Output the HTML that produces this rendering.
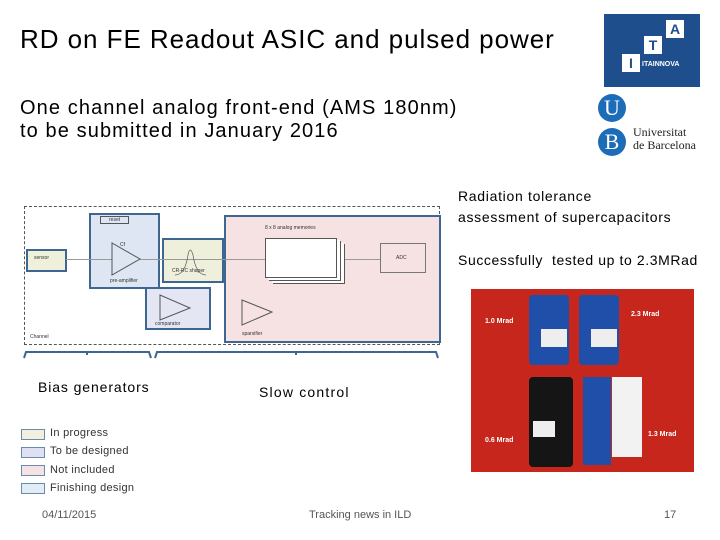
<!DOCTYPE html>
<html><head><meta charset="utf-8"><style>
body{margin:0;width:720px;height:540px;background:#fff;position:relative;overflow:hidden;font-family:"Liberation Sans",sans-serif;color:#000}
.a{position:absolute}
.t{font-size:14px}
.b{position:absolute;border:2px solid #3d6791}
.lg{position:absolute;width:22px;height:9px;border:1.5px solid #6a8bb0}
.lt{position:absolute;font-size:11px;color:#333;left:50px;letter-spacing:0.3px}
.s{font-size:5px;color:#333;position:absolute}
</style></head><body>
<div class="a" style="left:20px;top:24px;font-size:26px;letter-spacing:0.95px">RD on FE Readout ASIC and pulsed power</div>
<div class="a" style="left:20px;top:97px;font-size:20px;line-height:23px;letter-spacing:1.1px">One channel analog front-end (AMS 180nm)<br>to be submitted in January 2016</div>
<!-- ITA logo -->
<div class="a" style="left:604px;top:14px;width:96px;height:73px;background:#1f4e8c">
<div class="a" style="left:62px;top:6px;width:18px;height:18px;background:#fff;color:#1f4e8c;font-weight:bold;font-size:14px;text-align:center;line-height:18px">A</div>
<div class="a" style="left:40px;top:22px;width:18px;height:18px;background:#fff;color:#1f4e8c;font-weight:bold;font-size:14px;text-align:center;line-height:18px">T</div>
<div class="a" style="left:18px;top:40px;width:18px;height:18px;background:#fff;color:#1f4e8c;font-weight:bold;font-size:14px;text-align:center;line-height:18px">I</div>
<div class="a" style="left:38px;top:47px;color:#fff;font-size:7px;font-weight:bold">ITAINNOVA</div>
</div>
<div class="a" style="left:598px;top:94px;width:28px;height:28px;border-radius:50%;background:#1c6cb8;color:#fff;font-family:'Liberation Serif',serif;font-size:22px;text-align:center;line-height:28px">U</div>
<div class="a" style="left:598px;top:128px;width:28px;height:28px;border-radius:50%;background:#1c6cb8;color:#fff;font-family:'Liberation Serif',serif;font-size:22px;text-align:center;line-height:28px">B</div>
<div class="a" style="left:633px;top:126px;font-family:'Liberation Serif',serif;font-size:12px;line-height:13px;color:#222">Universitat<br>de Barcelona</div>
<div class="a" style="left:458px;top:186px;font-size:14px;line-height:21px;letter-spacing:0.7px">Radiation tolerance<br>assessment of supercapacitors</div>
<div class="a" style="left:458px;top:252px;font-size:14px;letter-spacing:0.6px">Successfully &nbsp;tested up to 2.3MRad</div>
<!-- diagram -->
<div class="a" style="left:24px;top:206px;width:414px;height:137px;border:1.5px dashed #555"></div>
<div class="b" style="left:224px;top:215px;width:213px;height:124px;background:#f6e2e2"></div>
<div class="b" style="left:26px;top:249px;width:37px;height:19px;background:#eef0dc"></div>
<div class="b" style="left:89px;top:213px;width:67px;height:72px;background:#dde6f2"></div>
<div class="b" style="left:162px;top:238px;width:58px;height:41px;background:#eef0dc"></div>
<div class="b" style="left:145px;top:287px;width:62px;height:39px;background:#e4e6f4"></div>
<div class="a" style="left:380px;top:243px;width:44px;height:28px;border:1px solid #777"></div>
<div class="a" style="left:66px;top:259px;width:314px;height:1px;background:#999"></div>
<div class="a" style="left:265px;top:238px;width:70px;height:38px;border:1px solid #555;background:#fff;box-shadow:3px 2px 0 #fff,4px 3px 0 #555,7px 5px 0 #fff,8px 6px 0 #555"></div>
<svg class="a" style="left:0;top:0" width="720" height="540">
<polygon points="112,243 112,275 140,259" fill="#dde6f2" stroke="#555" stroke-width="1"/>
<polygon points="160,295 160,320 190,308" fill="none" stroke="#555"/>
<polygon points="242,300 242,325 272,312" fill="none" stroke="#555"/>
<path d="M175,275 Q185,275 188,255 Q190,245 193,255 Q196,275 206,275" fill="none" stroke="#555" stroke-width="0.7"/>
<path d="M24,358 L26,352 L149,352 L151,358 M155,358 L157,352 L436,352 L438,358 M87,352 L87,355 M296,352 L296,355" fill="none" stroke="#3d6791" stroke-width="2"/>
</svg>
<div class="s" style="left:34px;top:255px">sensor</div>
<div class="s" style="left:100px;top:216px;border:1px solid #555;padding:0 8px">reset</div>
<div class="s" style="left:120px;top:242px">Cf</div>
<div class="s" style="left:110px;top:278px">pre-amplifier</div>
<div class="s" style="left:172px;top:268px">CR-RC shaper</div>
<div class="s" style="left:155px;top:321px">comparator</div>
<div class="s" style="left:265px;top:225px">8 x 8 analog memories</div>
<div class="s" style="left:396px;top:255px">ADC</div>
<div class="s" style="left:242px;top:331px">sparsifier</div>
<div class="s" style="left:30px;top:334px">Channel</div>
<div class="a t" style="left:38px;top:379px;letter-spacing:0.9px">Bias generators</div>
<div class="a t" style="left:259px;top:384px;letter-spacing:1.2px">Slow control</div>
<!-- legend -->
<div class="lg" style="left:21px;top:429px;background:#f2f0dc"></div><div class="lt" style="top:427px">In progress</div>
<div class="lg" style="left:21px;top:447px;background:#dfe0f4"></div><div class="lt" style="top:445px">To be designed</div>
<div class="lg" style="left:21px;top:465px;background:#f6e2e2"></div><div class="lt" style="top:464px">Not included</div>
<div class="lg" style="left:21px;top:483px;background:#e2ecf6"></div><div class="lt" style="top:482px">Finishing design</div>
<!-- photo -->
<div class="a" style="left:471px;top:289px;width:223px;height:183px;background:#c7261c;overflow:hidden">
<div class="a" style="left:58px;top:6px;width:40px;height:70px;background:#1f4fa8;border-radius:4px"></div>
<div class="a" style="left:108px;top:6px;width:40px;height:70px;background:#1f4fa8;border-radius:4px"></div>
<div class="a" style="left:58px;top:88px;width:44px;height:90px;background:#151515;border-radius:4px"></div>
<div class="a" style="left:112px;top:88px;width:28px;height:88px;background:#1f4fa8"></div>
<div class="a" style="left:141px;top:88px;width:30px;height:80px;background:#f2f2f2"></div>
<div class="a" style="left:70px;top:40px;width:26px;height:18px;background:#eee"></div>
<div class="a" style="left:120px;top:40px;width:26px;height:18px;background:#eee"></div>
<div class="a" style="left:62px;top:132px;width:22px;height:16px;background:#eee"></div>
<div class="a" style="left:14px;top:29px;color:#fff;font-size:7px;font-weight:bold">1.0 Mrad</div>
<div class="a" style="left:160px;top:22px;color:#fff;font-size:7px;font-weight:bold">2.3 Mrad</div>
<div class="a" style="left:14px;top:148px;color:#fff;font-size:7px;font-weight:bold">0.6 Mrad</div>
<div class="a" style="left:177px;top:142px;color:#fff;font-size:7px;font-weight:bold">1.3 Mrad</div>
</div>
<div class="a" style="left:42px;top:509px;font-size:11px;color:#555">04/11/2015</div>
<div class="a" style="left:309px;top:509px;font-size:11px;color:#555">Tracking news in ILD</div>
<div class="a" style="left:664px;top:509px;font-size:11px;color:#555">17</div>
</body></html>
